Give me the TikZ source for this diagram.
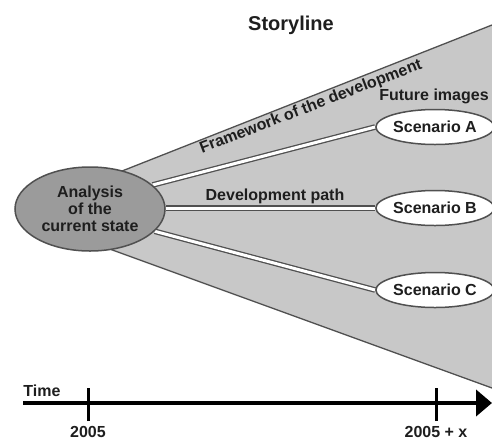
\documentclass[tikz,border=0pt]{standalone}
\usepackage{fontspec}
\setmainfont{Liberation Sans}
\usetikzlibrary{shapes.geometric,arrows.meta}
\pgfdeclarelayer{back}
\pgfdeclarelayer{mid}
\pgfsetlayers{back,mid,main}
\definecolor{wedgegray}{RGB}{200,200,200}
\definecolor{maingray}{RGB}{155,155,155}
\definecolor{edgegray}{RGB}{80,80,80}
\definecolor{txt}{RGB}{30,30,30}
\tikzset{
  lbl/.style={font=\fontsize{16}{18}\selectfont\bfseries, text=txt, inner sep=0pt},
  scen/.style={ellipse, draw=edgegray, line width=1.5pt, fill=white, minimum width=94pt, minimum height=35pt, inner sep=0pt, font=\fontsize{16}{18}\selectfont\bfseries, text=txt},
  mainell/.style={ellipse, draw=edgegray, line width=1.5pt, fill=maingray, minimum width=150pt, minimum height=84pt, inner sep=0pt, align=center, font=\fontsize{16}{18}\selectfont\bfseries, text=txt},
  devline/.style={draw=edgegray, line width=1.3pt, double=white, double distance=3pt},
  axis/.style={line width=4pt, -{Triangle[length=16pt,width=26pt]}},
  tick/.style={line width=3pt}
}
\begin{document}
\begin{tikzpicture}[x=1pt,y=-1pt]
\useasboundingbox (0,0) rectangle (492,437);
% nodes
\node[mainell] (main) at (90,209) {Analysis\\[-1pt]of the\\[-1pt]current state};
\node[scen] (scA) at (435,127) {Scenario A};
\node[scen] (scB) at (435,208) {Scenario B};
\node[scen] (scC) at (435,290) {Scenario C};
% wedge
\begin{pgfonlayer}{back}
\coordinate (wtl) at (100,179.7);
\coordinate (wtr) at (492,25);
\coordinate (wbr) at (492,388);
\coordinate (wbl) at (100,245.5);
\fill[wedgegray] (wtl) -- (wtr) -- (wbr) -- (wbl) -- cycle;
\draw[edgegray, line width=1.3pt] (wtl) -- (wtr);
\draw[edgegray, line width=1.3pt] (wbl) -- (wbr);
\end{pgfonlayer}
% paths
\begin{pgfonlayer}{mid}
\draw[devline] (main.21) -- (scA.west);
\draw[devline] (scB.west -| main.east) -- (scB.west);
\draw[devline] (main.-19) -- (scC.west);
\end{pgfonlayer}
% labels
\node[lbl, font=\fontsize{20}{22}\selectfont\bfseries] (title) at (291,25) {Storyline};
\node[lbl] (future) at (434,96) {Future images};
\node[lbl] (devpath) at (275,196) {Development path};
\node[lbl, rotate=21] (frame) at (311,107) {Framework of the development};
% time axis
\coordinate (tstart) at (23,403);
\coordinate (tend) at (492,403);
\draw[axis] (tstart) -- (tend);
\coordinate (t1) at (88,403);
\coordinate (t2) at (436,403);
\draw[tick] ([yshift=-18pt]t1) -- ([yshift=15pt]t1);
\draw[tick] ([yshift=-18pt]t2) -- ([yshift=15pt]t2);
\node[lbl] (time) at (42,391) {Time};
\node[lbl] (y1) at (88,432) {2005};
\node[lbl] (y2) at (436,432) {2005 + x};
\end{tikzpicture}
\end{document}
